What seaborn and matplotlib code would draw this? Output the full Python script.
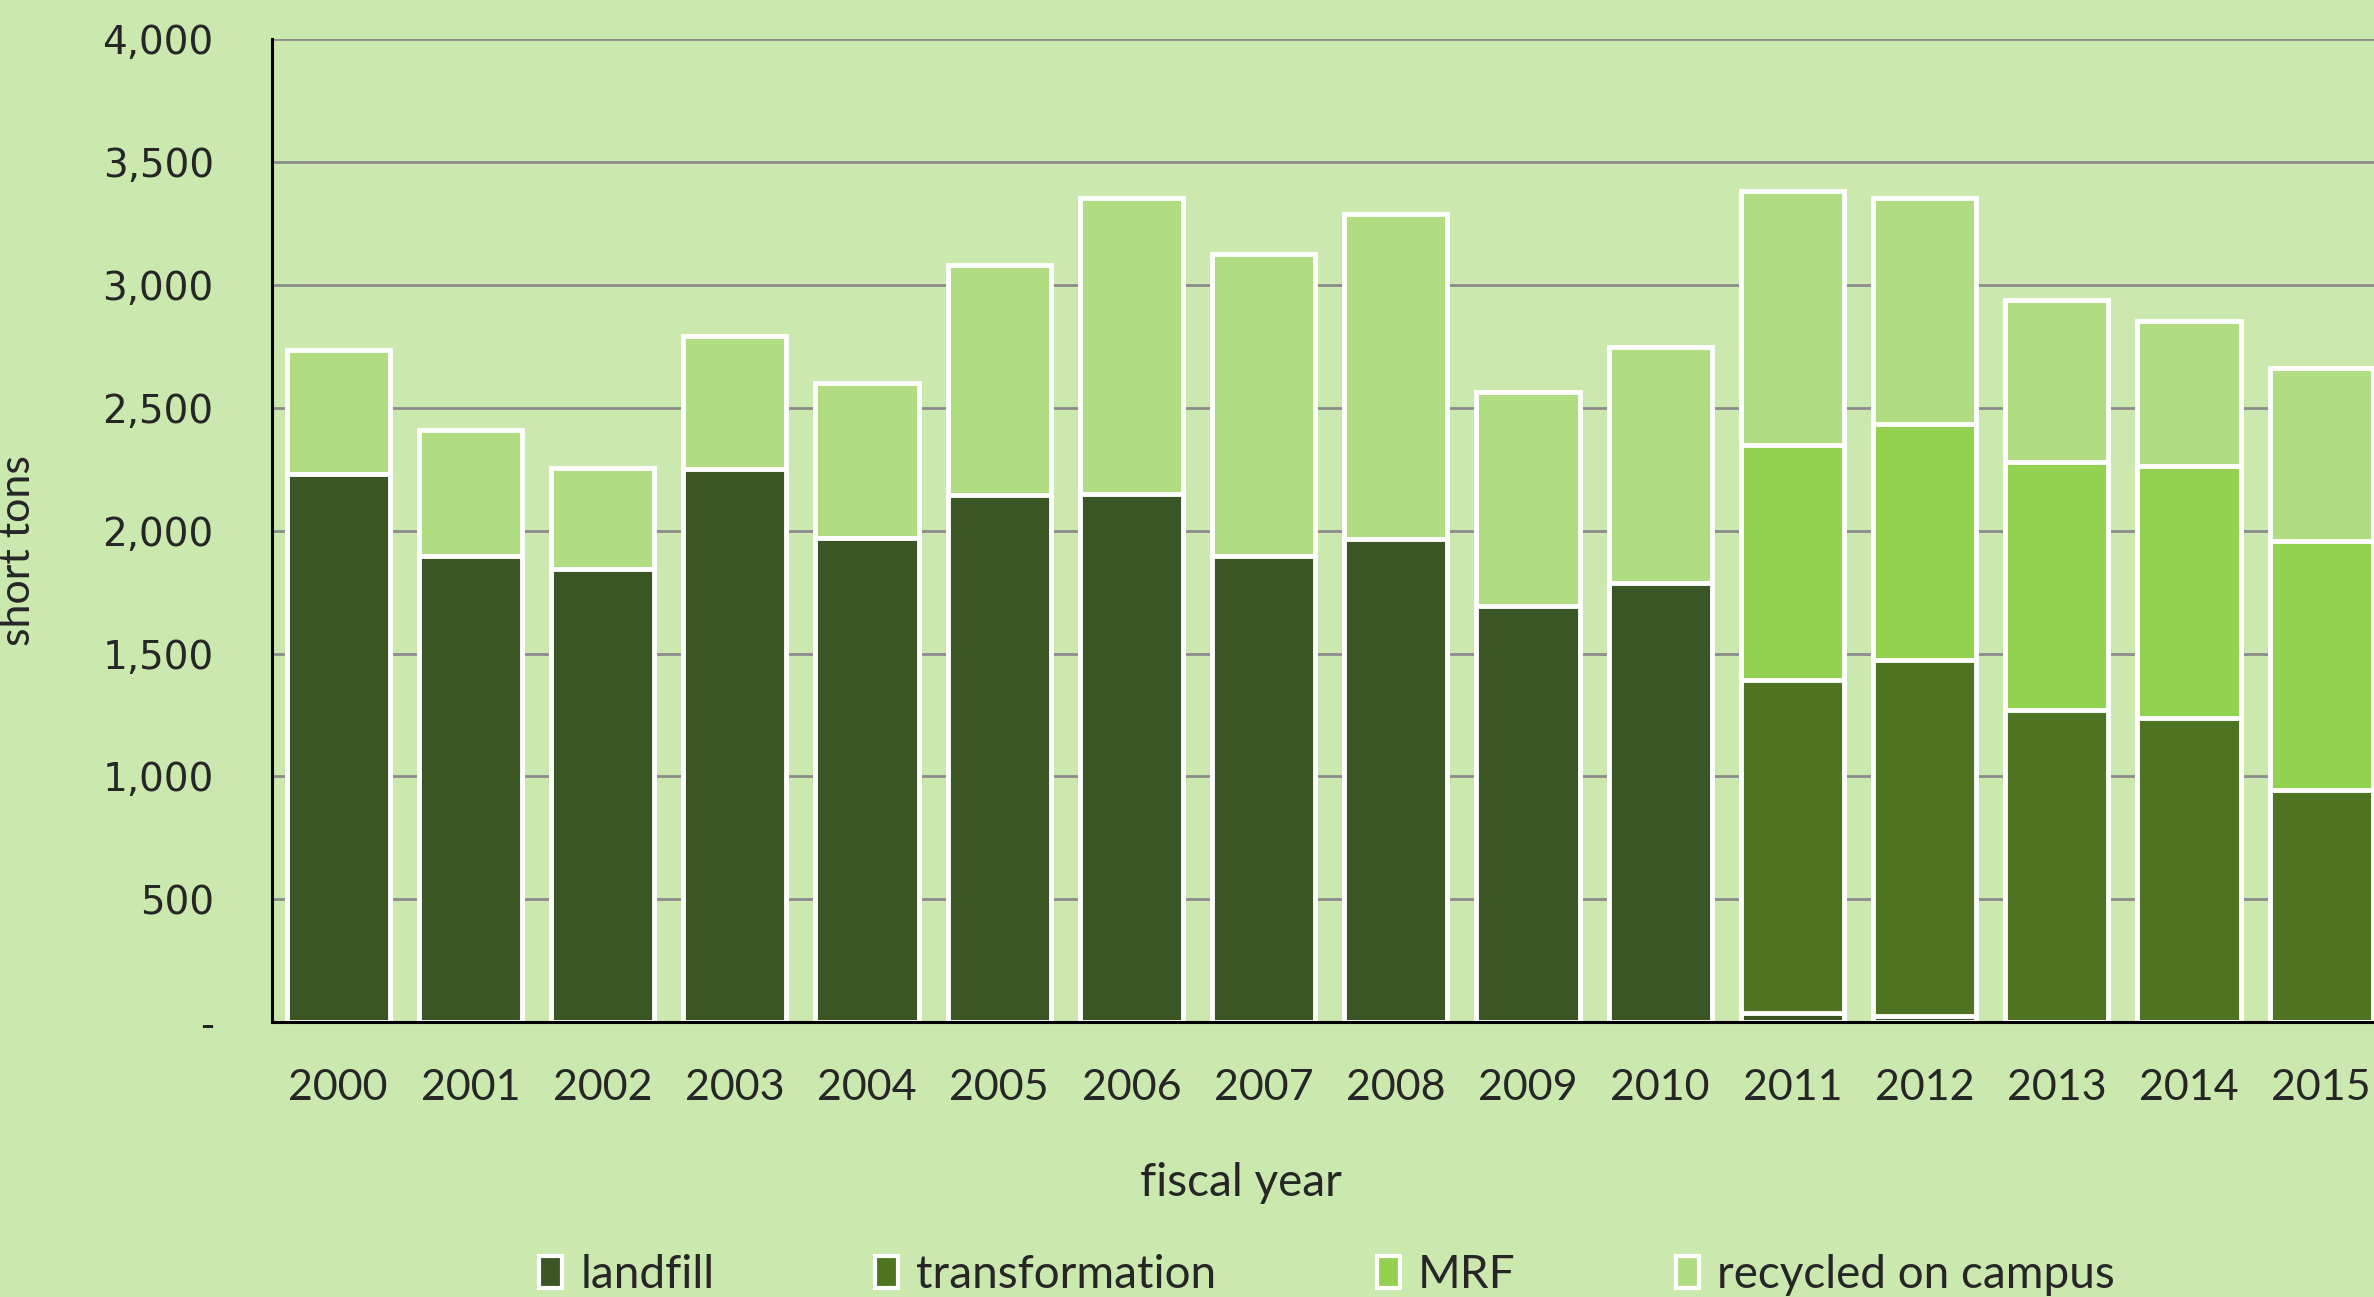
import pandas as pd
import seaborn as sns
import matplotlib.pyplot as plt
from matplotlib.patches import Patch
from matplotlib.ticker import FuncFormatter

# values (short tons)
years = ['2000', '2001', '2002', '2003', '2004', '2005', '2006', '2007',
         '2008', '2009', '2010', '2011', '2012', '2013', '2014', '2015']
landfill = [2231, 1898, 1843, 2250, 1972, 2145, 2151, 1898,
            1966, 1695, 1787, 35, 25, 0, 0, 0]
transformation = [0, 0, 0, 0, 0, 0, 0, 0,
                  0, 0, 0, 1358, 1448, 1270, 1239, 943]
mrf = [0, 0, 0, 0, 0, 0, 0, 0,
       0, 0, 0, 955, 961, 1010, 1023, 1017]
recycled = [505, 512, 413, 542, 629, 937, 1202, 1227,
            1325, 869, 962, 1035, 919, 660, 591, 702]

series = ['landfill', 'transformation', 'MRF', 'recycled on campus']
colors = ['#3A5624', '#4E7421', '#93D150', '#B1DD82']
bg = '#CBE8AE'

df = pd.DataFrame({'year': years, 'landfill': landfill,
                   'transformation': transformation, 'MRF': mrf,
                   'recycled on campus': recycled})
# cumulative heights so the layers can be drawn top-down
cum = df[series].cumsum(axis=1)

sns.set_style('white')
plt.rcParams['font.family'] = ['Lato', 'DejaVu Sans']

fig = plt.figure(figsize=(23.74, 12.97), dpi=100, facecolor=bg)
ax = fig.add_axes([0.1146, 0.212, 0.891, 0.7576])
ax.set_facecolor(bg)

for name, col in zip(series[::-1], colors[::-1]):
    sns.barplot(x=df['year'], y=cum[name], color=col, saturation=1,
                width=0.78, edgecolor='white', linewidth=3.5, ax=ax, zorder=3)

ax.set_ylim(0, 4000)
ax.set_xlim(-0.5, 15.5)
ax.set_yticks(range(0, 4001, 500))
ax.yaxis.set_major_formatter(FuncFormatter(lambda v, p: '-' if v == 0 else f'{int(v):,}'))
ax.grid(axis='y', color='#8C8C8C', linewidth=2, zorder=0)
ax.set_axisbelow(True)

for s in ['top', 'right']:
    ax.spines[s].set_visible(False)
for s in ['left', 'bottom']:
    ax.spines[s].set_color('black')
    ax.spines[s].set_linewidth(2.2)
    ax.spines[s].set_zorder(4)

ax.tick_params(axis='y', length=0, pad=42)
ax.tick_params(axis='x', length=0, pad=34)
for t in ax.get_yticklabels():
    t.set_fontfamily('DejaVu Sans')
    t.set_fontsize(28)
for t in ax.get_xticklabels():
    t.set_fontsize(31)

ax.set_xlabel('fiscal year', fontsize=33)
ax.xaxis.set_label_coords(0.458, -0.142)
ax.set_ylabel('short tons', fontsize=31)
ax.yaxis.set_label_coords(-0.111, 0.48)

handles = [Patch(facecolor=c, edgecolor='white', linewidth=3) for c in colors]
fig.legend(handles, series, loc='center', bbox_to_anchor=(0.559, 0.017),
           ncol=4, frameon=False, fontsize=33, handlelength=0.5,
           handleheight=0.7, handletextpad=0.4, columnspacing=3.5)

fig.savefig('out.png', dpi=100, facecolor=bg)
